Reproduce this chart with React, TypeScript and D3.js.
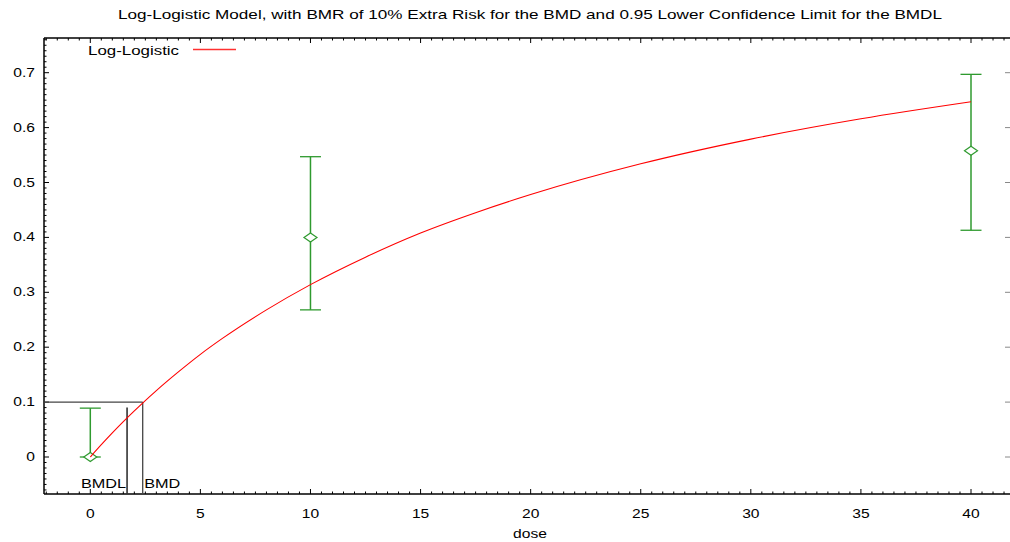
import React from "react";
import * as d3 from "d3";

const title = "Log-Logistic Model, with BMR of 10% Extra Risk for the BMD and 0.95 Lower Confidence Limit for the BMDL";
const xTicks = [0, 5, 10, 15, 20, 25, 30, 35, 40];
const yTicks = [0, 0.1, 0.2, 0.3, 0.4, 0.5, 0.6, 0.7];
const obsDose = [0, 10, 40];
const obsMean = [0, 0.4, 0.558];
const obsLower = [0, 0.268, 0.413];
const obsUpper = [0.089, 0.547, 0.697];
const curveDose = [0, 0.5, 1, 1.5, 2, 2.4, 3, 4, 5, 6, 8, 10, 12.5, 15, 17.5, 20, 25, 30, 35, 40];
const curveResp = [0, 0.0224, 0.0439, 0.0644, 0.084, 0.0992, 0.121, 0.155, 0.187, 0.216, 0.268, 0.314, 0.364, 0.408, 0.445, 0.478, 0.534, 0.579, 0.616, 0.647];
const bmd = 2.38;
const bmdl = 1.67;
const bmr = 0.1;
const bmdlTop = 0.09;

const W = 1010, H = 542;
const L = 44, R = 1010, T = 38, B = 494;
const SX = 1.3;

function SText(props: { x: number; y: number; anchor?: string; size: number; children: React.ReactNode }) {
  return (
    <g transform={`translate(${props.x},${props.y}) scale(${SX},1)`}>
      <text x={0} y={0} textAnchor={props.anchor || "start"} fontSize={props.size} fill="#000">{props.children}</text>
    </g>
  );
}

export default function App() {
  const x = d3.scaleLinear().domain([0, 40]).range([90.3, 971]);
  const y = d3.scaleLinear().domain([0, 0.7]).range([457, 72.7]);
  const xMin = x.invert(L), xMax = x.invert(R);
  const yMin = y.invert(B), yMax = y.invert(T);
  const xMinor = d3.range(Math.ceil(xMin / 0.5) * 0.5, xMax, 0.5);
  const yMinor = d3.range(Math.ceil(yMin / 0.01) * 0.01, yMax, 0.01);
  const line = d3.line<number>().x((_, i) => x(curveDose[i])).y((d) => y(d)).curve(d3.curveMonotoneX);
  const green = "#2f9a2f";
  const font = "Liberation Sans, Arial, sans-serif";
  const isMajorX = (v: number) => Math.abs(v / 5 - Math.round(v / 5)) < 1e-6;
  const isMajorY = (v: number) => Math.abs(v / 0.1 - Math.round(v / 0.1)) < 1e-6;
  return (
    <svg width={W} height={H} style={{ position: "absolute", left: 0, top: 0, background: "#fff" }} fontFamily={font}>
      <text x={530} y={19} textAnchor="middle" fontSize={13} fill="#000" textLength={824} lengthAdjust="spacingAndGlyphs">{title}</text>
      {/* frame */}
      <line x1={L} y1={T} x2={R} y2={T} stroke="#000" strokeWidth={1.5} />
      <line x1={L} y1={B} x2={R} y2={B} stroke="#000" strokeWidth={1.5} />
      <line x1={L} y1={T} x2={L} y2={B} stroke="#000" strokeWidth={1.5} />
      {/* x ticks */}
      {xMinor.map((v, i) => {
        const m = isMajorX(v);
        const len = m ? 5 : 2.5;
        return (
          <g key={"xt" + i}>
            <line x1={x(v)} x2={x(v)} y1={B} y2={B - len} stroke="#000" strokeWidth={1} />
            <line x1={x(v)} x2={x(v)} y1={T} y2={T + len} stroke="#000" strokeWidth={1} />
          </g>
        );
      })}
      {yMinor.map((v, i) => {
        const m = isMajorY(v);
        const len = m ? 5 : 2.5;
        return (
          <g key={"yt" + i}>
            <line x1={L} x2={L + len} y1={y(v)} y2={y(v)} stroke="#000" strokeWidth={1} />
            {m && <line x1={R} x2={R - len} y1={y(v)} y2={y(v)} stroke="#888" strokeWidth={1} />}
          </g>
        );
      })}
      {xTicks.map((v) => (
        <SText key={"xl" + v} x={x(v)} y={518} anchor="middle" size={12}>{v}</SText>
      ))}
      {yTicks.map((v) => (
        <SText key={"yl" + v} x={35} y={y(v) + 4} anchor="end" size={12}>{v === 0 ? "0" : v.toFixed(1)}</SText>
      ))}
      <SText x={530} y={538} anchor="middle" size={12}>dose</SText>
      {/* BMD lines */}
      <line x1={L} x2={x(bmd)} y1={y(bmr)} y2={y(bmr)} stroke="#444" strokeWidth={1.3} />
      <line x1={x(bmd)} x2={x(bmd)} y1={B} y2={y(bmr)} stroke="#444" strokeWidth={1.3} />
      <line x1={x(bmdl)} x2={x(bmdl)} y1={B} y2={y(bmdlTop)} stroke="#333" strokeWidth={1.6} />
      <SText x={x(bmdl) - 1} y={488} anchor="end" size={12.5}>BMDL</SText>
      <SText x={x(bmd) + 1.5} y={488} size={12.5}>BMD</SText>
      {/* error bars */}
      {obsDose.map((d, i) => {
        const cx = x(d), cy = y(obsMean[i]);
        return (
          <g key={"eb" + i} stroke={green} fill="none">
            <line x1={cx} x2={cx} y1={y(obsLower[i])} y2={y(obsUpper[i])} strokeWidth={1.5} />
            <line x1={cx - 10.5} x2={cx + 10.5} y1={y(obsLower[i])} y2={y(obsLower[i])} strokeWidth={1.3} />
            <line x1={cx - 10.5} x2={cx + 10.5} y1={y(obsUpper[i])} y2={y(obsUpper[i])} strokeWidth={1.3} />
            <path d={`M${cx - 6.5},${cy} L${cx},${cy - 4.5} L${cx + 6.5},${cy} L${cx},${cy + 4.5} Z`} fill="#fff" strokeWidth={1.2} />
          </g>
        );
      })}
      {/* model curve */}
      <path d={line(curveResp) || ""} fill="none" stroke="#ff0000" strokeWidth={1.1} />
      {/* legend */}
      <SText x={88} y={55} size={13}>Log-Logistic</SText>
      <path d="M193,49.5 H236" fill="none" stroke="#ff3030" strokeWidth={1.5} />
    </svg>
  );
}
